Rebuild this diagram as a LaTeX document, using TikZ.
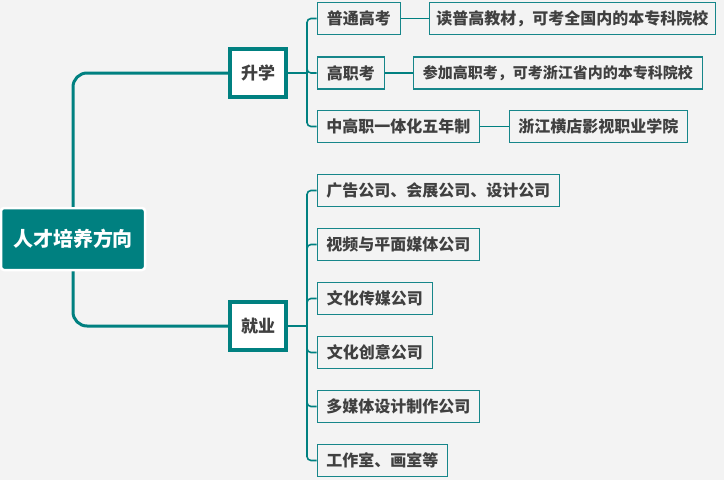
\documentclass[tikz,border=0pt]{standalone}
\usepackage{fontspec}
\setmainfont{Noto Sans CJK SC}
\definecolor{bg}{RGB}{243,243,243}
\definecolor{tealc}{RGB}{0,128,128}
\definecolor{boxline}{RGB}{22,134,138}
\definecolor{txt}{RGB}{64,64,64}
\tikzset{
 rootbox/.style={fill=tealc, draw=white, line width=2.5pt, rounded corners=3pt, minimum width=144pt, minimum height=62pt, text=white, font=\bfseries\fontsize{20}{24}\selectfont, inner sep=0pt},
 midbox/.style={fill=white, draw=tealc, line width=4pt, minimum width=56pt, minimum height=48pt, text=txt, font=\bfseries\fontsize{17}{20}\selectfont, inner sep=0pt},
 leafbox/.style={fill=bg, draw=boxline, line width=1.3pt, minimum height=32pt, text=txt, font=\bfseries\fontsize{16}{19}\selectfont, inner sep=0pt, anchor=west},
 mainlink/.style={draw=tealc, line width=3pt, rounded corners=14pt},
 buslink/.style={draw=tealc, line width=1.6pt, rounded corners=4pt},
 leaflink/.style={draw=tealc, line width=1.3pt},
}
\begin{document}
\begin{tikzpicture}[x=1pt,y=-1pt]
\fill[bg] (0,0) rectangle (724,480);
\useasboundingbox (0,0) rectangle (724,480);

\node[rootbox] (root) at (73,239) {人才培养方向};
\node[midbox] (sx) at (258,73) {升学};
\node[midbox] (jy) at (258,326) {就业};

\node[leafbox, minimum width=83pt] (c1) at (316.6,18.5) {普通高考};
\node[leafbox, minimum width=67pt] (c2) at (316.6,73) {高职考};
\node[leafbox, minimum width=162pt] (c3) at (316.6,126.5) {中高职一体化五年制};

\node[leafbox, minimum width=286pt] (l1) at (428.6,18.5) {读普高教材，可考全国内的本专科院校};
\node[leafbox, minimum width=289pt, font=\bfseries\fontsize{15}{18}\selectfont] (l2) at (412.6,73) {参加高职考，可考浙江省内的本专科院校};
\node[leafbox, minimum width=178pt] (l3) at (508.6,126.5) {浙江横店影视职业学院};

\node[leafbox, minimum width=242pt] (j1) at (316.6,190.5) {广告公司、会展公司、设计公司};
\node[leafbox, minimum width=162pt] (j2) at (316.6,244.5) {视频与平面媒体公司};
\node[leafbox, minimum width=115pt] (j3) at (316.6,298.5) {文化传媒公司};
\node[leafbox, minimum width=115pt] (j4) at (316.6,352.5) {文化创意公司};
\node[leafbox, minimum width=162pt] (j5) at (316.6,406.5) {多媒体设计制作公司};
\node[leafbox, minimum width=130pt] (j6) at (316.6,460.5) {工作室、画室等};

\coordinate (bs) at (307,73);
\coordinate (bj) at (307,326);

\draw[mainlink] (root.north) |- (sx.west);
\draw[mainlink] (root.south) |- (jy.west);

\draw[buslink] (sx.east) -- (bs);
\draw[buslink] (bs) |- (c1.west);
\draw[buslink] (bs) |- (c2.west);
\draw[buslink] (bs) |- (c3.west);

\draw[buslink] (jy.east) -- (bj);
\foreach \n in {j1,j2,j3,j4,j5,j6}{\draw[buslink] (bj) |- (\n.west);}

\draw[leaflink] (c1.east) -- (l1.west);
\draw[leaflink] (c2.east) -- (l2.west);
\draw[leaflink] (c3.east) -- (l3.west);
\end{tikzpicture}
\end{document}
